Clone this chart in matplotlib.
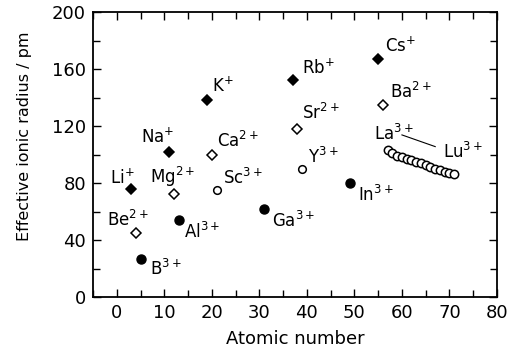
import numpy as np
import matplotlib
matplotlib.use("Agg")
import matplotlib.pyplot as plt
import matplotlib.transforms as mtransforms

plt.rcParams['font.family'] = ['DejaVu Sans']
plt.rcParams['mathtext.fontset'] = 'dejavusans'
plt.rcParams['mathtext.default'] = 'regular'

# Effective ionic radii (pm) vs atomic number
alkali_z = [3, 11, 19, 37, 55]
alkali_r = [76, 102, 138, 152, 167]
alkali_lab = ["Li$^{+}$", "Na$^{+}$", "K$^{+}$", "Rb$^{+}$", "Cs$^{+}$"]

earth_z = [4, 12, 20, 38, 56]
earth_r = [45, 72, 100, 118, 135]
earth_lab = ["Be$^{2+}$", "Mg$^{2+}$", "Ca$^{2+}$", "Sr$^{2+}$", "Ba$^{2+}$"]

grp3_z = [21, 39]
grp3_r = [75, 90]
grp3_lab = ["Sc$^{3+}$", "Y$^{3+}$"]

lan_z = list(range(57, 72))
lan_r = [103.2, 101.0, 99.0, 98.3, 97.0, 95.8, 94.7, 93.8, 92.3, 91.2,
         90.1, 89.0, 88.0, 86.8, 86.1]

grp13_z = [5, 13, 31, 49]
grp13_r = [27, 54, 62, 80]
grp13_lab = ["B$^{3+}$", "Al$^{3+}$", "Ga$^{3+}$", "In$^{3+}$"]

# label offsets in pixels (left edge, vertical centre) from each point
alkali_off = [(-21, 11), (-28, 15), (5, 14), (9, 12), (7, 13)]
earth_off = [(-29, 13), (-24, 17), (5, 14), (5, 16), (7, 13)]
grp3_off = [(6, 12), (6, 12)]
grp13_off = [(9, -10), (5, -12), (8, -12), (8, -12)]

fig = plt.figure(figsize=(5.21, 3.54), dpi=100)
ax = fig.add_axes([93/521, 57/354, 404/521, 285/354])

mew = 1.1
ax.plot(alkali_z, alkali_r, 'D', ms=5.6, color='black', mew=mew, ls='none')
ax.plot(earth_z, earth_r, 'D', ms=5.6, mfc='white', mec='black', mew=mew, ls='none')
ax.plot(grp3_z, grp3_r, 'o', ms=5.5, mfc='white', mec='black', mew=mew, ls='none')
ax.plot(lan_z, lan_r, 'o', ms=6.0, mfc='white', mec='black', mew=mew, ls='none')
ax.plot(grp13_z, grp13_r, 'o', ms=6.5, color='black', ls='none')

fs = 12
px = 0.72  # points per pixel


def put_labels(zs, rs, labs, offs):
    for z, r, lab, (dx, dy) in zip(zs, rs, labs, offs):
        ax.annotate(lab, (z, r), xytext=(dx*px, dy*px), textcoords='offset points',
                    ha='left', va='center', fontsize=fs)


put_labels(alkali_z, alkali_r, alkali_lab, alkali_off)
put_labels(earth_z, earth_r, earth_lab, earth_off)
put_labels(grp3_z, grp3_r, grp3_lab, grp3_off)
put_labels(grp13_z, grp13_r, grp13_lab, grp13_off)
ax.annotate("La$^{3+}$", (lan_z[0], lan_r[0]), xytext=(-14*px, 16*px),
            textcoords='offset points', ha='left', va='center', fontsize=fs)
ax.annotate("Lu$^{3+}$", (lan_z[-1], lan_r[-1]), xytext=(-11*px, 22*px),
            textcoords='offset points', ha='left', va='center', fontsize=fs)

# connector line between La and Lu labels
shift = mtransforms.offset_copy(ax.transData, fig=fig, x=0, y=22, units='dots')
ax.plot([lan_z[3], lan_z[10]], [lan_r[3], lan_r[10]], color='black', lw=0.8,
        transform=shift)

ax.set_xlim(-5, 80)
ax.set_ylim(0, 200)
ax.set_xticks(np.arange(0, 81, 10))
ax.set_xticks(np.arange(-5, 81, 5), minor=True)
ax.set_yticks(np.arange(0, 201, 40))
ax.set_yticks(np.arange(0, 201, 20), minor=True)
ax.tick_params(which='both', direction='in', top=True, right=True, width=1.0,
               labelsize=13, pad=5)
ax.tick_params(which='major', length=6)
ax.tick_params(which='minor', length=5)
for s in ax.spines.values():
    s.set_linewidth(1.3)

ax.set_xlabel("Atomic number", fontsize=13, labelpad=6)
ax.set_ylabel("Effective ionic radius / pm", fontsize=11.5)
ax.yaxis.set_label_coords(-0.15, 0.565)

fig.savefig("out.png", dpi=100)
